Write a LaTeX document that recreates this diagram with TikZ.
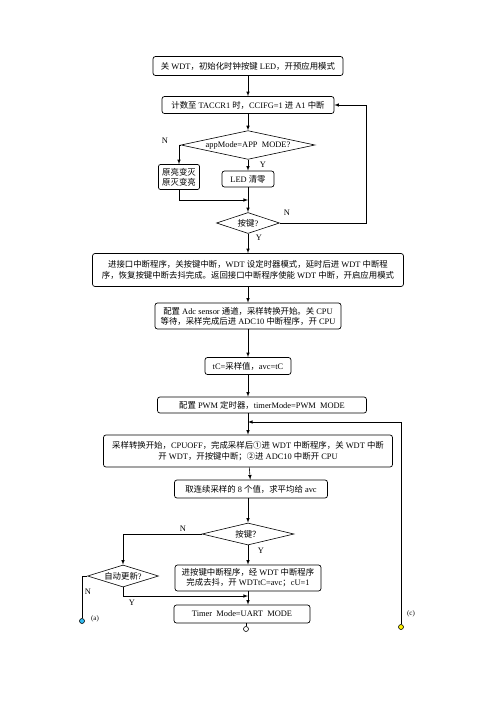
\documentclass[tikz,border=0pt]{standalone}
\usepackage{fontspec}
\setmainfont{Liberation Serif}
\newfontfamily\cjk{Noto Sans CJK SC}
\usetikzlibrary{shapes.geometric}
% switch to the CJK font for Chinese characters
\XeTeXinterchartokenstate=1
\newXeTeXintercharclass\cjkcls
\newcount\cc
\cc="2460 \loop\ifnum\cc<"2500 \XeTeXcharclass\cc=\cjkcls \advance\cc by 1 \repeat
\cc="3000 \loop\ifnum\cc<"3040 \XeTeXcharclass\cc=\cjkcls \advance\cc by 1 \repeat
\cc="4E00 \loop\ifnum\cc<"A000 \XeTeXcharclass\cc=\cjkcls \advance\cc by 1 \repeat
\cc="FF00 \loop\ifnum\cc<"FFF0 \XeTeXcharclass\cc=\cjkcls \advance\cc by 1 \repeat
\XeTeXinterchartoks 0 \cjkcls={\begingroup\cjk}
\XeTeXinterchartoks 4095 \cjkcls={\begingroup\cjk}
\XeTeXinterchartoks \cjkcls 0={\endgroup}
\XeTeXinterchartoks \cjkcls 4095={\endgroup}
\newcommand{\fsz}{\fontsize{8.4}{11}\selectfont}
\tikzset{
  box/.style={draw, rounded corners=2.5pt, line width=0.7pt, inner sep=1pt, align=center, font=\fsz},
  dec/.style={draw, diamond, aspect=4, inner sep=0pt, line width=0.6pt, font=\fsz},
  lab/.style={font=\fsz, inner sep=1pt},
  flow/.style={->, >=latex, line width=0.6pt},
  term/.style={circle, draw, inner sep=0pt, minimum size=5pt, line width=0.6pt},
}
\begin{document}
\begin{tikzpicture}[x=1pt,y=-1pt]
\useasboundingbox (0,0) rectangle (496,702);

\node[box,minimum width=190,minimum height=19] (init) at (248,66) {关 WDT，初始化时钟按键 LED，开预应用模式};
\node[box,minimum width=172,minimum height=17] (count) at (248,105) {计数至 TACCR1 时，CCIFG=1 进 A1 中断};
\node[dec,minimum width=134,minimum height=28] (mode) at (248,145) {appMode=APP~~MODE?};
\node[box,minimum width=41,minimum height=25,rounded corners=2pt] (flip) at (179,177) {原亮变灭\\[-1pt]原灭变亮};
\node[box,minimum width=52,minimum height=16] (ledclr) at (248,179) {LED 清零};
\node[dec,minimum width=63,minimum height=21] (key) at (248,223) {按键?};
\node[box,minimum width=311,minimum height=33] (debounce) at (248,270) {进接口中断程序，关按键中断，WDT 设定时器模式，延时后进 WDT 中断程\\序，恢复按键中断去抖完成。返回接口中断程序使能 WDT 中断，开启应用模式};
\node[box,minimum width=186,minimum height=26] (adc) at (248,316) {配置 Adc sensor 通道，采样转换开始。关 CPU\\[-1pt]等待，采样完成后进 ADC10 中断程序，开 CPU};
\node[box,minimum width=86,minimum height=17] (tc) at (248,366) {tC=采样值，avc=tC};
\node[box,minimum width=209,minimum height=16] (pwm) at (262,405) {配置 PWM 定时器，timerMode=PWM~~MODE};
\node[box,minimum width=289,minimum height=32] (conv) at (248,451) {采样转换开始，CPUOFF，完成采样后①进 WDT 中断程序，关 WDT 中断\\开 WDT，开按键中断；②进 ADC10 中断开 CPU};
\node[box,minimum width=153,minimum height=18] (avg) at (251,489) {取连续采样的 8 个值，求平均给 avc};
\node[dec,minimum width=92,minimum height=22] (key2) at (248,534) {按键？};
\node[dec,minimum width=71,minimum height=22] (auto) at (123,576) {自动更新?};
\node[box,minimum width=146,minimum height=26] (isr) at (248,578) {进按键中断程序，经 WDT 中断程序\\[-1pt]完成去抖，开 WDTtC=avc；cU=1};
\node[box,minimum width=136,minimum height=18] (uart) at (242,614) {Timer~~Mode=UART~~MODE};
\node[term,fill=white] (endterm) at (246,629) {};
\node[term,fill=cyan!80!white] (aterm) at (82,621) {};
\node[term,fill=yellow] (cterm) at (401,627) {};

\coordinate (j1) at (248,200);
\coordinate (back1) at (366,105);
\coordinate (cin) at (248,422);
\coordinate (j2) at (248,596);

\draw[flow] (init) -- (count);
\draw[flow] (count) -- (mode);
\draw[flow] (mode.west) -| (flip.north);
\draw[flow] (mode.south) -- (ledclr.north);
\draw[flow] (flip.south) |- (j1);
\draw[flow] (ledclr.south) -- (key.north);
\draw[flow] (key.east) -| (back1) -- (count.east);
\draw[flow] (key.south) -- (debounce.north);
\draw[flow] (debounce) -- (adc);
\draw[flow] (adc) -- (tc);
\draw[flow] (tc.south) -- (tc.south |- pwm.north);
\draw[flow] (tc.south |- pwm.south) -- (conv.north);
\draw[flow] (cterm.north) |- (cin);
\draw[flow] (conv) -- (avg);
\draw[flow] (avg.south -| key2) -- (key2.north);
\draw[flow] (key2.west) -| (auto.north);
\draw[flow] (key2.south) -- (isr.north);
\draw (auto.west) -| (aterm.north);
\draw[flow] (auto.south) |- (j2);
\draw[flow] (isr.south) -- (isr.south |- uart.north);
\draw (uart.south -| endterm) -- (endterm.north);

\node[lab] (n1) at (165,141) {N};
\node[lab] (y1) at (263,165) {Y};
\node[lab] (n2) at (287,213) {N};
\node[lab] (y2) at (259,238) {Y};
\node[lab] (n3) at (183,529) {N};
\node[lab] (y3) at (261,551) {Y};
\node[lab] (n4) at (88,592) {N};
\node[lab] (y4) at (132,603) {Y};
\node[lab,font=\fontsize{7}{8}\selectfont] (alab) at (95,619) {(a)};
\node[lab,font=\fontsize{7}{8}\selectfont] (clab) at (411,614) {(c)};
\end{tikzpicture}
\end{document}
